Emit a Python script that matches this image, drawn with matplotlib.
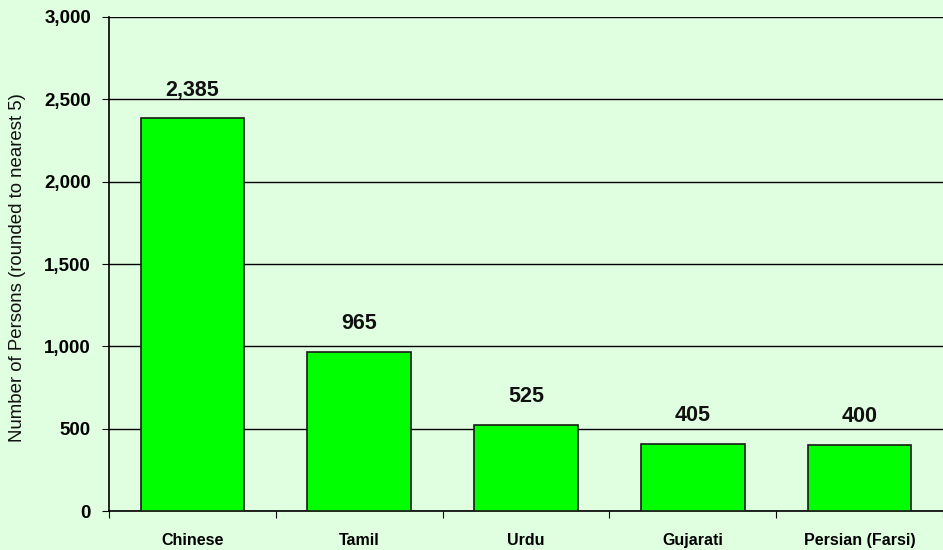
import matplotlib
matplotlib.use("Agg")
import matplotlib.pyplot as plt

# data
languages = ["Chinese", "Tamil", "Urdu", "Gujarati", "Persian (Farsi)"]
persons = [2385, 965, 525, 405, 400]
y_ticks = [0, 500, 1000, 1500, 2000, 2500, 3000]

BG = "#E0FFE0"
BAR = "#00FF00"

plt.rcParams["font.family"] = ["Liberation Sans", "DejaVu Sans"]

fig = plt.figure(figsize=(9.43, 5.5), dpi=100, facecolor=BG)
ax = fig.add_axes([109 / 943, 39 / 550, (943 - 109) / 943, 494 / 550])
ax.set_facecolor(BG)

x = list(range(len(languages)))
ax.bar(x, persons, width=0.62, color=BAR, edgecolor="#1a1a1a", linewidth=1.2, zorder=3)

for xi, v in zip(x, persons):
    ax.annotate(f"{v:,}", (xi, v), xytext=(0, 16.5), textcoords="offset points",
                ha="center", va="baseline", fontsize=15.5, fontweight="bold", color="#111111")

ax.set_ylim(0, 3000)
# one category is ~169.5 px wide; the last one is cut off by the right edge
ax.set_xlim(-0.5, -0.5 + 834 / 169.5)
ax.set_yticks(y_ticks)
ax.set_yticklabels([f"{t:,}" for t in y_ticks], fontsize=13.5, fontweight="bold")
ax.yaxis.grid(True, color="black", linewidth=1.0, zorder=0)
ax.set_axisbelow(True)

# ticks at category boundaries, labels at centres
ax.set_xticks([i - 0.5 for i in range(len(languages) + 1)])
ax.set_xticklabels([])
ax.set_xticks(x, minor=True)
ax.set_xticklabels(languages, minor=True, fontsize=11.5, fontweight="bold")
ax.tick_params(axis="x", which="major", direction="out", length=5, color="black")
ax.tick_params(axis="x", which="minor", length=0, pad=16)
ax.tick_params(axis="y", direction="out", length=5, pad=8)

for s in ["top", "right"]:
    ax.spines[s].set_visible(False)
for s in ["left", "bottom"]:
    ax.spines[s].set_color("black")
    ax.spines[s].set_linewidth(1.2)

fig.text(18 / 943, 1 - 268 / 550, "Number of Persons (rounded to nearest 5)",
         rotation=90, ha="center", va="center", fontsize=13.4, color="#111111")

fig.savefig("out.png", dpi=100, facecolor=BG)
